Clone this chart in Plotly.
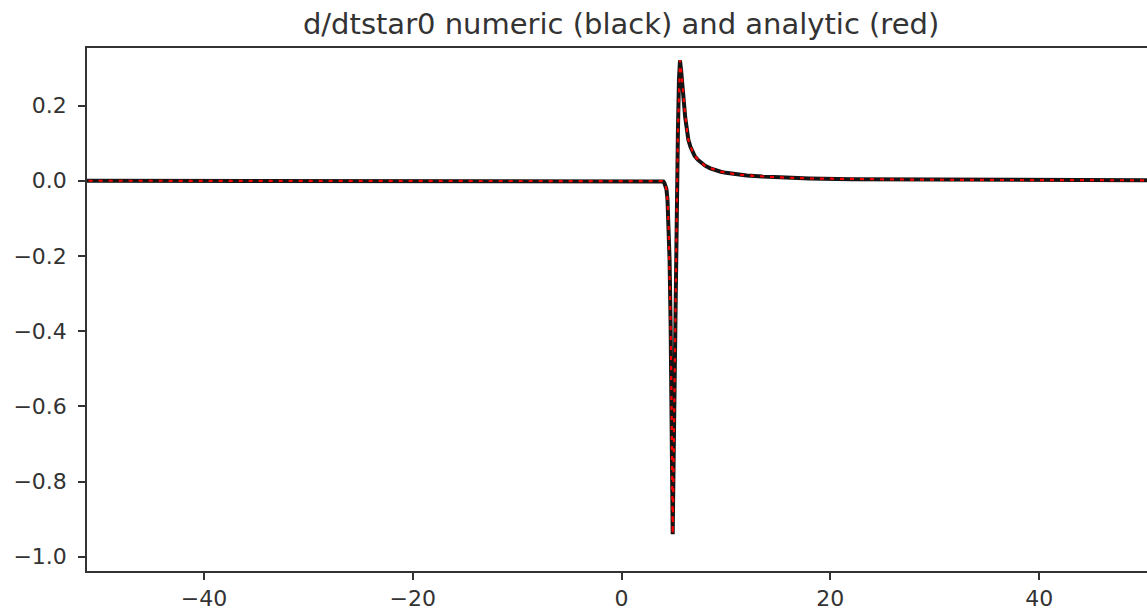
import plotly.graph_objects as go

# ---- data ----
x_vals = [-52, 3.6, 3.8, 3.9, 4.0, 4.1, 4.2, 4.3, 4.4, 4.5, 4.6, 4.7, 4.8, 4.9,
          5.0, 5.1, 5.2, 5.3, 5.4, 5.5, 5.6, 5.7, 5.8, 5.9, 6.0, 6.1, 6.2, 6.3,
          6.4, 6.6, 6.8, 7.0, 7.3, 7.6, 8.0, 8.5, 9.0, 9.5, 10.0, 11.0, 12.0,
          13.5, 15.0, 18.0, 22.0, 28.0, 36.0, 45.0, 52.0]
y_numeric = [0.0, 0.0, -0.0005, -0.001, -0.002, -0.006, -0.012, -0.022, -0.05,
             -0.11, -0.21, -0.38, -0.62, -0.94,
             -0.72, -0.45, -0.2, -0.05, 0.13, 0.27, 0.32, 0.295, 0.27, 0.238,
             0.2, 0.168, 0.145, 0.125, 0.109, 0.09, 0.077, 0.066, 0.056,
             0.048, 0.04, 0.033, 0.028, 0.024, 0.021, 0.017, 0.014, 0.011,
             0.009, 0.006, 0.004, 0.003, 0.002, 0.0015, 0.001]
y_analytic = list(y_numeric)

x_tickvals = [-40, -20, 0, 20, 40]
x_ticktext = ["−40", "−20", "0", "20", "40"]
y_tickvals = [0.2, 0.0, -0.2, -0.4, -0.6, -0.8, -1.0]
y_ticktext = ["0.2", "0.0", "−0.2", "−0.4", "−0.6", "−0.8", "−1.0"]

title_text = "d/dtstar0 numeric (black) and analytic (red)"

fig = go.Figure()
fig.add_trace(go.Scatter(x=x_vals, y=y_numeric, mode="lines",
                         line=dict(color="#151515", width=4),
                         showlegend=False, hoverinfo="skip"))
fig.add_trace(go.Scatter(x=x_vals, y=y_analytic, mode="lines",
                         line=dict(color="#ff0000", width=2.2, dash="4px,6px"),
                         showlegend=False, hoverinfo="skip"))

axis_font = dict(family="DejaVu Sans", size=22, color="#333333")
fig.update_layout(
    width=1147, height=613,
    margin=dict(l=87, r=0, t=48, b=42),
    paper_bgcolor="white", plot_bgcolor="white",
    title=dict(text=title_text, x=0.5415, xanchor="center",
               y=1 - 34 / 613, yref="container", yanchor="bottom",
               font=dict(family="DejaVu Sans", size=29, color="#333333")),
    xaxis=dict(range=[-51.2, 50.33], tickvals=x_tickvals, ticktext=x_ticktext,
               showgrid=False, zeroline=False, showline=True, mirror=True,
               linecolor="#333333", linewidth=1.6, ticks="outside", ticklen=7,
               tickwidth=1.5, tickcolor="#333333", tickfont=axis_font),
    yaxis=dict(range=[-1.038, 0.353], tickvals=y_tickvals, ticktext=y_ticktext,
               showgrid=False, zeroline=False, showline=True, mirror=False,
               linecolor="#333333", linewidth=1.6, ticks="outside", ticklen=7,
               tickwidth=1.5, tickcolor="#333333", tickfont=axis_font,
               ticklabelstandoff=7),
)

fig.write_html("out.html", config={"displayModeBar": False},
               post_script="document.body.style.margin='0px';document.body.style.overflow='hidden';")
